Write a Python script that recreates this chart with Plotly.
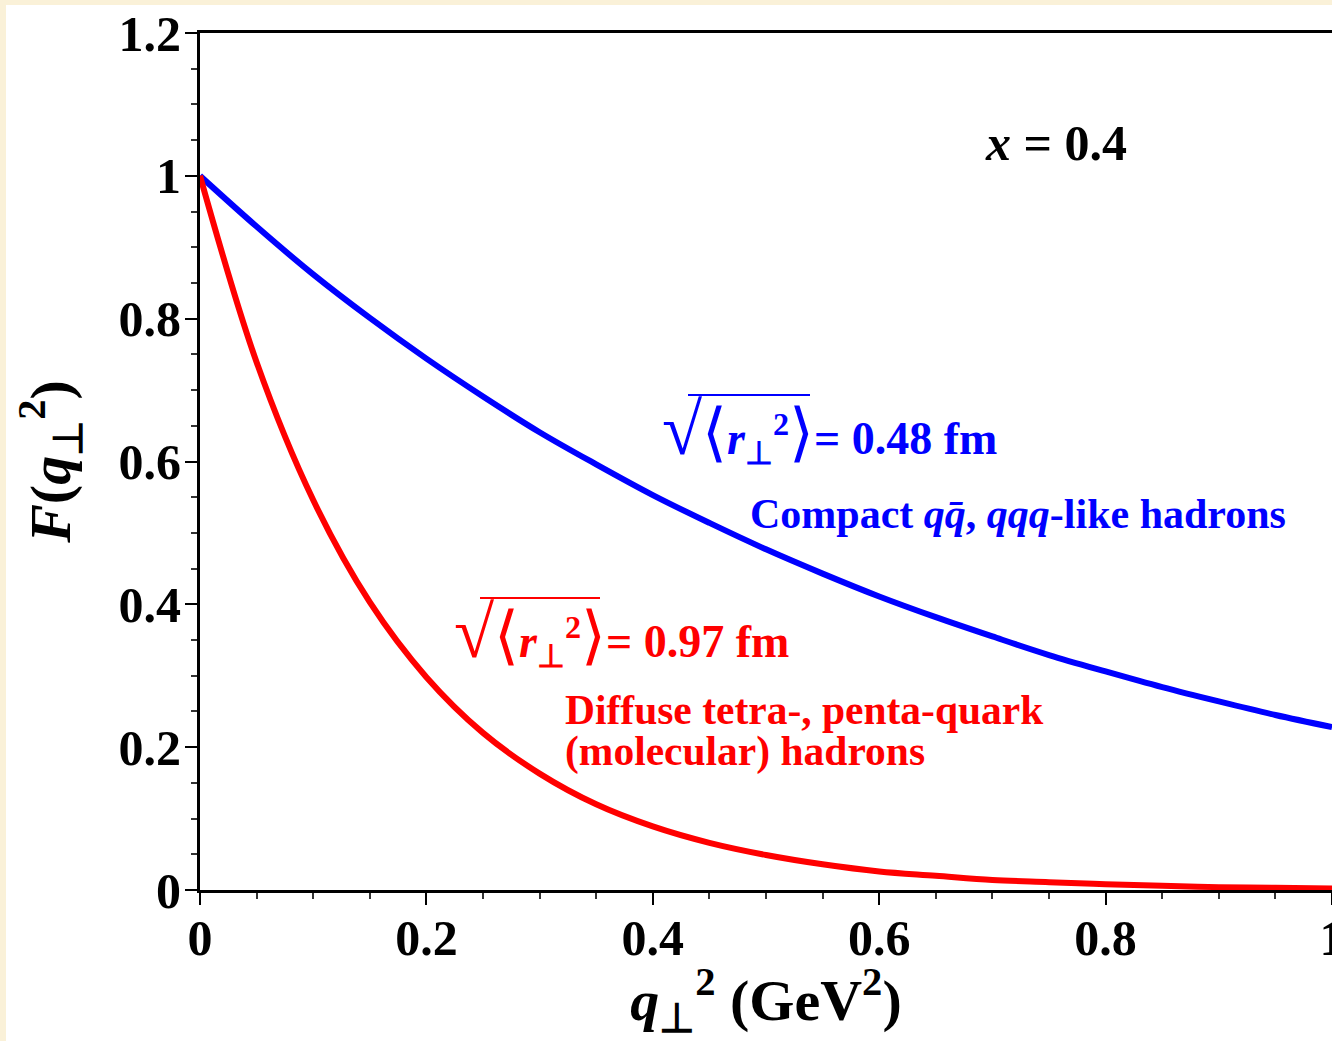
import plotly.graph_objects as go

# q_perp^2 sample points (GeV^2)
q2 = [0.0, 0.05, 0.1, 0.15, 0.2, 0.25, 0.3, 0.35, 0.4, 0.45, 0.5,
      0.55, 0.6, 0.65, 0.7, 0.75, 0.8, 0.85, 0.9, 0.95, 1.0]
# compact hadrons, sqrt<r^2> = 0.48 fm
F_compact = [1.0, 0.929, 0.862, 0.801, 0.744, 0.691, 0.641, 0.596, 0.553, 0.514, 0.477,
             0.443, 0.411, 0.382, 0.355, 0.329, 0.306, 0.284, 0.264, 0.245, 0.228]
# diffuse hadrons, sqrt<r^2> = 0.97 fm
F_diffuse = [1.0, 0.739, 0.546, 0.403, 0.298, 0.220, 0.163, 0.120, 0.089, 0.066, 0.049,
             0.036, 0.026, 0.020, 0.014, 0.011, 0.008, 0.006, 0.004, 0.003, 0.002]

x_ticks = [0, 0.2, 0.4, 0.6, 0.8, 1]
x_ticklabels = ["0", "0.2", "0.4", "0.6", "0.8", "1"]
y_ticks = [0, 0.2, 0.4, 0.6, 0.8, 1, 1.2]
y_ticklabels = ["0", "0.2", "0.4", "0.6", "0.8", "1", "1.2"]

FONT = "Liberation Serif"
W, H = 1332, 1041
L, R, T, B = 200, 0, 33, 151
pw, ph = W - L - R, H - T - B

def px_x(p):
    return (p - L) / pw

def px_y(p):
    return (H - B - p) / ph

fig = go.Figure()
fig.add_trace(go.Scatter(x=q2, y=F_compact, mode="lines", line=dict(color="#0000ff", width=6, shape="spline"),
                         showlegend=False))
fig.add_trace(go.Scatter(x=q2, y=F_diffuse, mode="lines", line=dict(color="#ff0000", width=6, shape="spline"),
                         showlegend=False))

axis_common = dict(
    showgrid=False, zeroline=False, showline=True, linecolor="black", linewidth=3,
    ticks="outside", ticklen=12, tickwidth=2, tickcolor="black",
    tickfont=dict(family=FONT, size=50, color="black"),
    ticklabeloverflow="allow", automargin=False,
)

fig.update_xaxes(range=[0, 1], tickvals=x_ticks, ticktext=[f"<b>{t}</b>" for t in x_ticklabels],
                 mirror=True, ticklabelstandoff=-10,
                 minor=dict(dtick=0.05, ticks="outside", ticklen=6, tickwidth=1.5, tickcolor="#333"),
                 title=dict(text="<b><i>q</i><sub>⊥</sub><sup>2</sup> (GeV<sup>2</sup>)</b>",
                            font=dict(family=FONT, size=58, color="black"), standoff=6),
                 **axis_common)
fig.update_yaxes(range=[0, 1.2], tickvals=y_ticks, ticktext=[f"<b>{t}</b>" for t in y_ticklabels],
                 ticklabelstandoff=-6,
                 minor=dict(dtick=0.05, ticks="outside", ticklen=6, tickwidth=1.5, tickcolor="#333"),
                 title=dict(text="<b><i>F</i>(<i>q</i><sub>⊥</sub><sup>2</sup>)</b>",
                            font=dict(family=FONT, size=58, color="black"), standoff=30),
                 **axis_common)

def radical_label(value, color, xl, yc, size):
    return dict(
        text=(f"<span style='font-size:{int(size*1.6)}px'>√</span>"
              f"<span style='font-size:{int(size*1.4)}px'>⟨</span>"
              f"<b><i>r</i><sub>⊥</sub><sup>2</sup></b>"
              f"<span style='font-size:{int(size*1.4)}px'>⟩</span>"
              f"<b>= {value} fm</b>"),
        x=px_x(xl), y=px_y(yc), xanchor="left", yanchor="middle",
        font=dict(family=FONT, size=size, color=color))

annotations = [
    dict(text="<b><i>x</i> = 0.4</b>", x=px_x(983), y=px_y(143), xanchor="left", yanchor="middle",
         font=dict(family=FONT, size=50, color="black")),
    radical_label("0.48", "#0000ff", 660, 430, 46),
    dict(text="<b>Compact <i>q</i><i>q̄</i>, <i>qqq</i>-like hadrons</b>", x=px_x(748), y=px_y(514),
         xanchor="left", yanchor="middle", font=dict(family=FONT, size=42, color="#0000ff")),
    radical_label("0.97", "#ff0000", 452, 633, 46),
    dict(text="<b>Diffuse tetra-, penta-quark</b>", x=px_x(563), y=px_y(710),
         xanchor="left", yanchor="middle", font=dict(family=FONT, size=41.5, color="#ff0000")),
    dict(text="<b>(molecular) hadrons</b>", x=px_x(563), y=px_y(751),
         xanchor="left", yanchor="middle", font=dict(family=FONT, size=41.5, color="#ff0000")),
]
for a in annotations:
    a.update(xref="paper", yref="paper", showarrow=False)

shapes = [
    dict(type="rect", xref="paper", yref="paper", x0=px_x(6), x1=px_x(W + 5), y0=px_y(H + 5), y1=px_y(5),
         fillcolor="white", line=dict(width=0), layer="below"),
    # radical overlines
    dict(type="line", xref="paper", yref="paper", x0=px_x(688), x1=px_x(810), y0=px_y(395), y1=px_y(395),
         line=dict(color="#0000ff", width=2)),
    dict(type="line", xref="paper", yref="paper", x0=px_x(480), x1=px_x(600), y0=px_y(598), y1=px_y(598),
         line=dict(color="#ff0000", width=2)),
]

fig.update_layout(
    width=W, height=H, margin=dict(l=L, r=R, t=T, b=B),
    paper_bgcolor="#FAF1D8", plot_bgcolor="white",
    annotations=annotations, shapes=shapes,
)

fig.write_html("out.html", config={"displayModeBar": False},
               post_script="document.body.style.margin='0';document.body.style.overflow='hidden';")
